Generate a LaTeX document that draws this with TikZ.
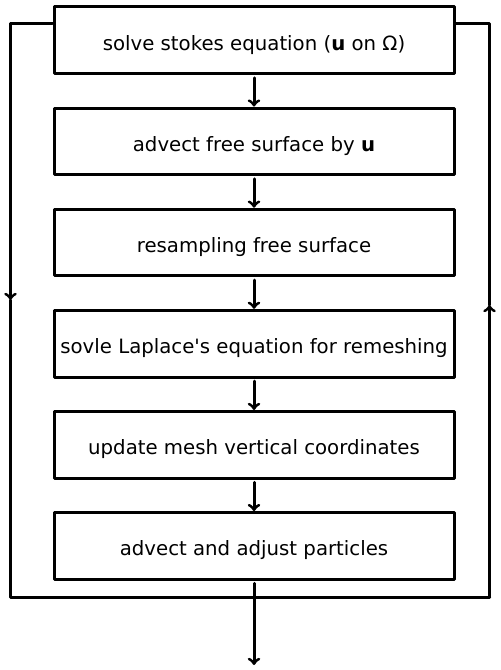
\documentclass[tikz,border=0pt]{standalone}
\usepackage{fontspec}
\setmainfont{DejaVu Sans}
\usetikzlibrary{arrows,positioning}

\begin{document}
\begin{tikzpicture}[line cap=round,line join=round,>=to,x=0.75pt,y=-0.75pt,line width=2.25pt,
	stepbox/.style={draw,minimum width=300pt,minimum height=50pt,inner sep=0pt,text height=15.5pt,text depth=0.5pt,font=\fontsize{14.8}{17}\selectfont},
	node distance=23.6pt]
		\useasboundingbox (0,0) rectangle (500,670);
		%\draw[help lines] (0,0) grid (500,670);
		\node[stepbox] (stokes) at (254,40.3) {solve stokes equation (\textbf{u} on Ω)};
		\node[stepbox,below=of stokes] (advect) {advect free surface by \textbf{u}};
		\node[stepbox,below=of advect] (resample) {resampling free surface};
		\node[stepbox,below=of resample] (laplace) {sovle Laplace\textquotesingle s equation for remeshing};
		\node[stepbox,below=of laplace] (mesh) {update mesh vertical coordinates};
		\node[stepbox,below=of mesh] (particles) {advect and adjust particles};
		\draw[->] ([yshift=-2pt]stokes.south) -- (advect.north);
		\draw[->] ([yshift=-2pt]advect.south) -- (resample.north);
		\draw[->] ([yshift=-2pt]resample.south) -- (laplace.north);
		\draw[->] ([yshift=-2pt]laplace.south) -- (mesh.north);
		\draw[->] ([yshift=-2pt]mesh.south) -- (particles.north);
		% time loop
		\coordinate (topL) at (10.5,23.5);
		\coordinate (topR) at (489.5,23.5);
		\coordinate (midL) at (10.5,300);
		\coordinate (midR) at (489.5,305);
		\coordinate (botL) at (10.5,597);
		\coordinate (botR) at (489.5,597);
		\coordinate (exit) at (254,665);
		\draw[->] (stokes.west|-topL) -- (topL) -- (midL);
		\draw (midL) -- (botL) -- (botR);
		\draw[->] (botR) -- (midR);
		\draw (midR) -- (topR) -- (stokes.east|-topR);
		\draw[->] ([yshift=-2pt]particles.south) -- (exit);
\end{tikzpicture}
\end{document}
